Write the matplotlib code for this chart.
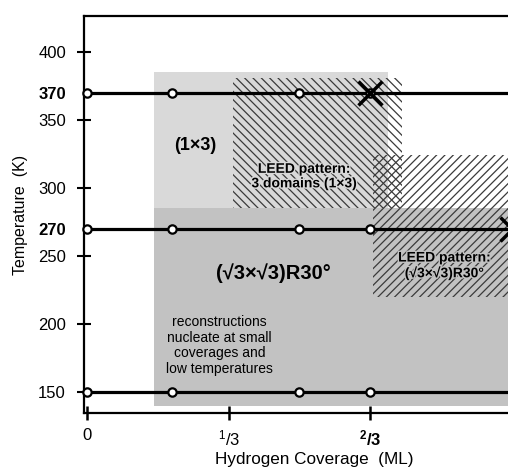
import numpy as np
import matplotlib
matplotlib.use('Agg')
import matplotlib.pyplot as plt
from matplotlib.patches import Rectangle
import matplotlib.patheffects as pe

plt.rcParams['font.family'] = ['Liberation Sans', 'DejaVu Sans']
plt.rcParams['mathtext.fontset'] = 'custom'
plt.rcParams['mathtext.rm'] = 'Liberation Sans'
plt.rcParams['mathtext.it'] = 'Liberation Sans:italic'
plt.rcParams['mathtext.bf'] = 'Liberation Sans:bold'
plt.rcParams['hatch.linewidth'] = 0.9

# measured temperatures (K) and the coverages (ML) measured at each one
temps = [370, 270, 150]
cov_370 = [0, 0.2, 0.5, 2/3]
cov_270 = [0, 0.2, 0.5, 2/3]
cov_150 = [0, 0.2, 0.5, 2/3]
# points where the LEED pattern vanishes
cross_cov = [2/3, 1]
cross_temp = [370, 270]

ytick_vals = [150, 200, 250, 270, 300, 350, 370, 400]
ytick_bold = [270, 370]
xtick_vals = [0, 1/3, 2/3, 1]
xtick_labels = ['0', r'$^{1}/3$', r'$\mathbf{^{2}/3}$', '1']

# phase regions: (coverage from, coverage to, T from, T to)
region_1x3 = (0.158, 0.708, 285, 385)
region_r30 = (0.158, 1.2, 140, 285)
leed_1x3 = (0.344, 0.741, 285, 381)
leed_r30 = (0.673, 1.2, 220, 324)

fig = plt.figure(figsize=(5.08, 4.70), dpi=100)
ax = fig.add_axes([84/508, 57/470, 513/508, 397/470])
ax.set_xlim(-0.007, 1.2)
ax.set_ylim(134.8, 426.35)


def box(r, **kw):
    x0, x1, t0, t1 = r
    ax.add_patch(Rectangle((x0, t0), x1 - x0, t1 - t0, **kw))


box(region_1x3, facecolor='#d9d9d9', edgecolor='none', zorder=0.5)
box(region_r30, facecolor='#c2c2c2', edgecolor='none', zorder=0.5)
box(leed_1x3, fill=False, hatch='\\\\\\\\', edgecolor='#3a3a3a', lw=0, zorder=1)
box(leed_r30, fill=False, hatch='////', edgecolor='#3a3a3a', lw=0, zorder=1)

for T, cov in zip(temps, [cov_370, cov_270, cov_150]):
    ax.axhline(T, color='black', lw=2.3, zorder=2)
    ax.plot(cov, [T] * len(cov), 'o', mfc='white', mec='black', ms=6, mew=1.6,
            zorder=4, clip_on=False)
ax.plot(cross_cov, cross_temp, 'x', color='black', ms=17, mew=2.5, zorder=5, clip_on=False)

# text
ax.text(0.254, 331.6, '(1×3)', ha='center', va='center', fontsize=13, fontweight='bold', zorder=6)
ax.text(0.511, 308.8, 'LEED pattern:\n3 domains (1×3)', ha='center', va='center',
        fontsize=10, fontweight='bold', zorder=6, linespacing=1.05,
        path_effects=[pe.withStroke(linewidth=2, foreground='#d9d9d9')])
ax.text(0.439, 237.6, '(√3×√3)R30°', ha='center', va='center', fontsize=14.5, fontweight='bold', zorder=6)
ax.text(0.841, 243.2, 'LEED pattern:\n(√3×√3)R30°', ha='center', va='center',
        fontsize=10, fontweight='bold', zorder=6, linespacing=1.15,
        path_effects=[pe.withStroke(linewidth=2, foreground='#c2c2c2')])
ax.text(0.312, 184.3, 'reconstructions\nnucleate at small\ncoverages and\nlow temperatures',
        ha='center', va='center', fontsize=10, zorder=6, linespacing=1.15)

# axes
ax.set_yticks(ytick_vals)
ax.set_yticklabels([str(v) for v in ytick_vals])
for lbl, v in zip(ax.get_yticklabels(), ytick_vals):
    if v in ytick_bold:
        lbl.set_fontweight('bold')
for tk, v in zip(ax.yaxis.get_major_ticks(), ytick_vals):
    if v in ytick_bold:
        tk.tick1line.set_visible(False)
ax.set_xticks(xtick_vals)
ax.set_xticklabels(xtick_labels)

ax.tick_params(axis='y', direction='inout', length=10, width=1.5, pad=8, labelsize=12)
ax.tick_params(axis='x', direction='inout', length=10, width=1.8, pad=6, labelsize=12)
for s in ['left', 'top', 'bottom']:
    ax.spines[s].set_linewidth(1.6)
ax.spines['right'].set_visible(False)

ax.set_ylabel('Temperature  (K)', fontsize=11.5)
ax.yaxis.set_label_coords(-0.109, 0.5)
ax.set_xlabel('Hydrogen Coverage  (ML)', fontsize=12.3)
ax.xaxis.set_label_coords(0.448, -0.098)

fig.savefig('out.png', dpi=100)
